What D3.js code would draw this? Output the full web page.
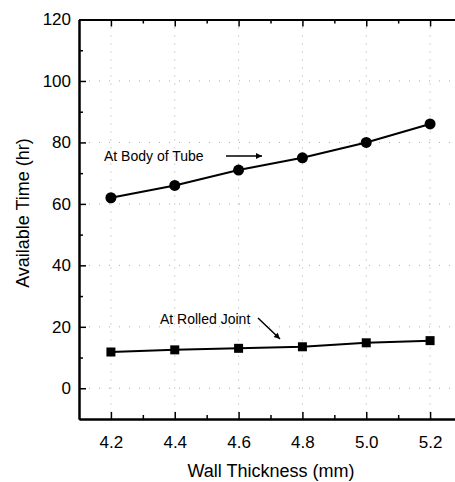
<!DOCTYPE html>
<html>
<head>
<meta charset="utf-8">
<script src="https://cdn.jsdelivr.net/npm/d3@7"></script>
<style>
  body { margin: 0; background: #fff; }
  svg { display: block; font-family: "Liberation Sans", Arial, sans-serif; }
  .axis path, .axis line { stroke: #000; }
  .axis text { font-size: 17px; fill: #000; }
</style>
</head>
<body>
<svg id="chart" width="455" height="482"></svg>
<script>
// data
const thickness = [4.2, 4.4, 4.6, 4.8, 5.0, 5.2];
const bodyOfTube = [62, 66, 71, 75, 80, 86];
const rolledJoint = [11.8, 12.5, 13.0, 13.5, 14.8, 15.5];

const xTicks = [4.2, 4.4, 4.6, 4.8, 5.0, 5.2];
const xMinor = [4.3, 4.5, 4.7, 4.9, 5.1];
const yTicks = [0, 20, 40, 60, 80, 100, 120];
const yMinor = [10, 30, 50, 70, 90, 110];

const plotLeft = 79, plotRight = 462, plotTop = 19.5, plotBottom = 419;

const svg = d3.select("#chart");

const x = d3.scaleLinear().domain([4.1, 5.3]).range([plotLeft, plotRight]);
const y = d3.scaleLinear().domain([-10, 120]).range([plotBottom, plotTop]);

// faint dotted grid
svg.append("g").selectAll("line")
  .data(xTicks).enter().append("line")
  .attr("x1", d => x(d)).attr("x2", d => x(d))
  .attr("y1", plotTop).attr("y2", plotBottom)
  .attr("stroke", "#aaa").attr("stroke-width", 1)
  .attr("stroke-dasharray", "1,7");

svg.append("g").selectAll("line")
  .data(yTicks).enter().append("line")
  .attr("x1", plotLeft).attr("x2", plotRight)
  .attr("y1", d => y(d)).attr("y2", d => y(d))
  .attr("stroke", "#aaa").attr("stroke-width", 1)
  .attr("stroke-dasharray", "1,9");

// axes, ticks pointing inward
function styleAxis(g) {
  g.attr("class", "axis");
  g.select(".domain").attr("stroke-width", 2);
  g.selectAll(".tick line").attr("stroke-width", 1.5);
}

svg.append("g")
  .attr("transform", `translate(0,${plotBottom})`)
  .call(d3.axisBottom(x).tickValues(xTicks).tickFormat(d3.format(".1f"))
    .tickSize(-7).tickSizeOuter(0).tickPadding(17))
  .call(styleAxis);

svg.append("g")
  .attr("transform", `translate(0,${plotBottom})`)
  .call(d3.axisBottom(x).tickValues(xMinor).tickFormat("").tickSize(-4).tickSizeOuter(0))
  .call(styleAxis);

svg.append("g")
  .attr("transform", `translate(0,${plotTop})`)
  .call(d3.axisTop(x).tickValues(xTicks).tickFormat("").tickSize(-7).tickSizeOuter(0))
  .call(styleAxis);

svg.append("g")
  .attr("transform", `translate(0,${plotTop})`)
  .call(d3.axisTop(x).tickValues(xMinor).tickFormat("").tickSize(-4).tickSizeOuter(0))
  .call(styleAxis);

svg.append("g")
  .attr("transform", `translate(${plotLeft},0)`)
  .call(d3.axisLeft(y).tickValues(yTicks).tickSize(-7).tickSizeOuter(0).tickPadding(8))
  .call(styleAxis);

svg.append("g")
  .attr("transform", `translate(${plotLeft},0)`)
  .call(d3.axisLeft(y).tickValues(yMinor).tickFormat("").tickSize(-4).tickSizeOuter(0))
  .call(styleAxis);

svg.append("g")
  .attr("transform", `translate(${plotRight},0)`)
  .call(d3.axisRight(y).tickValues(yTicks).tickFormat("").tickSize(-7).tickSizeOuter(0))
  .call(styleAxis);

// axis titles
svg.append("text")
  .attr("x", 271).attr("y", 477)
  .attr("text-anchor", "middle")
  .attr("font-size", 18)
  .text("Wall Thickness (mm)");

svg.append("text")
  .attr("transform", "translate(29,213) rotate(-90)")
  .attr("text-anchor", "middle")
  .attr("font-size", 18)
  .text("Available Time (hr)");

// series
const line = d3.line()
  .x(d => x(d[0]))
  .y(d => y(d[1]));

const bodyPts = thickness.map((t, i) => [t, bodyOfTube[i]]);
const jointPts = thickness.map((t, i) => [t, rolledJoint[i]]);

svg.append("path").datum(bodyPts)
  .attr("d", line).attr("fill", "none")
  .attr("stroke", "#000").attr("stroke-width", 2);

svg.append("path").datum(jointPts)
  .attr("d", line).attr("fill", "none")
  .attr("stroke", "#000").attr("stroke-width", 2);

svg.append("g").selectAll("circle")
  .data(bodyPts).enter().append("circle")
  .attr("cx", d => x(d[0])).attr("cy", d => y(d[1]))
  .attr("r", 5.5).attr("fill", "#000");

const sq = 9;
svg.append("g").selectAll("rect")
  .data(jointPts).enter().append("rect")
  .attr("x", d => x(d[0]) - sq / 2).attr("y", d => y(d[1]) - sq / 2)
  .attr("width", sq).attr("height", sq).attr("fill", "#000");

// annotations
svg.append("defs").append("marker")
  .attr("id", "arrow")
  .attr("viewBox", "0 0 10 10")
  .attr("refX", 10).attr("refY", 5)
  .attr("markerWidth", 9).attr("markerHeight", 6)
  .attr("markerUnits", "userSpaceOnUse")
  .attr("orient", "auto")
  .append("path").attr("d", "M0,0 L10,5 L0,10 Z").attr("fill", "#000");

svg.append("text")
  .attr("x", 104).attr("y", 161)
  .attr("font-size", 14)
  .text("At Body of Tube");

svg.append("line")
  .attr("x1", 226).attr("y1", 156).attr("x2", 262).attr("y2", 156)
  .attr("stroke", "#000").attr("stroke-width", 1.5)
  .attr("marker-end", "url(#arrow)");

svg.append("text")
  .attr("x", 160).attr("y", 324)
  .attr("font-size", 14)
  .text("At Rolled Joint");

svg.append("line")
  .attr("x1", 258).attr("y1", 318).attr("x2", 280).attr("y2", 339)
  .attr("stroke", "#000").attr("stroke-width", 1.5)
  .attr("marker-end", "url(#arrow)");
</script>
</body>
</html>
